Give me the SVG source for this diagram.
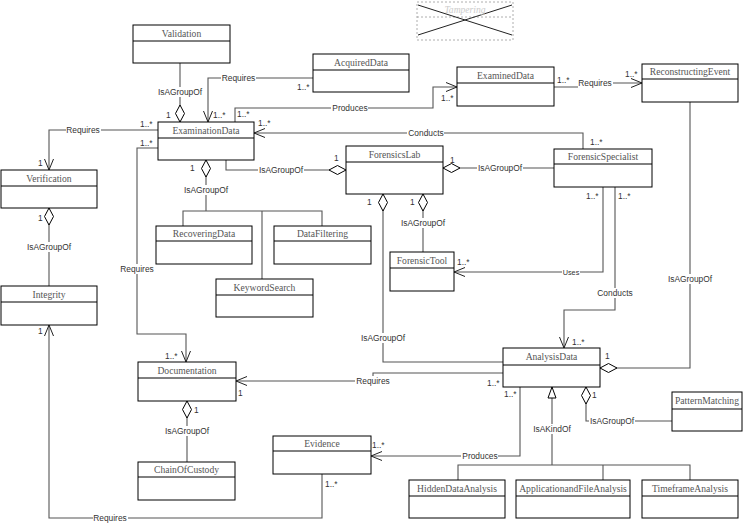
<svg xmlns="http://www.w3.org/2000/svg" width="749" height="527" viewBox="0 0 749 527">
<style>
.box{fill:#fff;stroke:#000;stroke-width:1}
.dv{stroke:#000;stroke-width:1}
.cn{font-family:"Liberation Serif","Times New Roman",serif;font-size:9.6px;font-weight:normal;fill:#555;text-anchor:middle}
.ln{fill:none;stroke:#555;stroke-width:1.1}
.lb{font-family:"Liberation Sans",Arial,sans-serif;font-size:8.4px;fill:#333;text-anchor:middle;dominant-baseline:central}
.bg{fill:#fff}
.m{font-family:"Liberation Sans",Arial,sans-serif;font-size:8.4px;fill:#333}
.oa{marker-end:url(#open)}
.da{marker-end:url(#dia)}
</style>
<defs>
<marker id="open" markerUnits="userSpaceOnUse" markerWidth="14" markerHeight="12" refX="11" refY="4.5" orient="auto" overflow="visible"><path d="M0,0 L11,4.5 L0,9" fill="none" stroke="#222" stroke-width="1"/></marker>
<marker id="dia" markerUnits="userSpaceOnUse" markerWidth="18" markerHeight="11" refX="17" refY="5" orient="auto" overflow="visible"><path d="M0,5 L8.5,0.5 L17,5 L8.5,9.5 Z" fill="#fff" stroke="#000" stroke-width="1"/></marker>
<marker id="tri" markerUnits="userSpaceOnUse" markerWidth="12" markerHeight="10" refX="11" refY="4" orient="auto" overflow="visible"><path d="M0,0 L11,4 L0,8 Z" fill="#fff" stroke="#000" stroke-width="1"/></marker>
</defs>
<rect width="749" height="527" fill="#fff"/>

<g id="connectors">
<polyline class="ln da" points="180,63 180,122"/>
<polyline class="ln oa" points="313,78 208,78 208,122"/>
<polyline class="ln oa" points="235,122 235,108 433,108 433,87 457,87"/>
<polyline class="ln oa" points="554,87 580,87 580,83 642,83"/>
<polyline class="ln oa" points="158,130 49,130 49,170"/>
<polyline class="ln oa" points="158,148 137,148 137,334 186,334 186,362"/>
<polyline class="ln oa" points="583,149 583,133 254,133"/>
<polyline class="ln da" points="226,160 226,170 346,170"/>
<polyline class="ln da" points="554,168 443,168"/>
<polyline class="ln" points="183,226 183,211 322,211 322,226"/>
<polyline class="ln" points="262,211 262,279"/>
<polyline class="ln da" points="206,211 206,160"/>
<polyline class="ln da" points="423,252 423,194"/>
<polyline class="ln da" points="503,362 383,362 383,194"/>
<polyline class="ln oa" points="603,187 603,272 454,272"/>
<polyline class="ln oa" points="615,187 615,310 564,310 564,348"/>
<polyline class="ln da" points="690,102 690,368 600,368"/>
<polyline class="ln oa" points="503,373 373,373 373,381 236,381"/>
<polyline class="ln oa" points="520,387 520,456 371,456"/>
<polyline class="ln oa" points="322,474 322,518 49,518 49,325"/>
<polyline class="ln" points="458,480 458,465 690,465 690,480"/>
<polyline class="ln" points="603,465 603,480"/>
<polyline class="ln" style="marker-end:url(#tri)" points="552,465 552,387"/>
<polyline class="ln da" points="672,421 586,421 586,387"/>
<polyline class="ln da" points="187,462 187,401"/>
<polyline class="ln da" points="49,286 49,208"/>

<rect class="bg" x="157" y="87" width="46" height="10"/><text class="lb" x="180" y="92">IsAGroupOf</text>
<rect class="bg" x="221" y="73" width="35" height="10"/><text class="lb" x="238.5" y="78">Requires</text>
<rect class="bg" x="331" y="103" width="37" height="10"/><text class="lb" x="350" y="108">Produces</text>
<rect class="bg" x="578" y="78" width="35" height="10"/><text class="lb" x="595" y="83">Requires</text>
<rect class="bg" x="66" y="125" width="35" height="10"/><text class="lb" x="83" y="130">Requires</text>
<rect class="bg" x="120" y="264" width="35" height="10"/><text class="lb" x="137" y="269">Requires</text>
<rect class="bg" x="407" y="128" width="37" height="10"/><text class="lb" x="426" y="133">Conducts</text>
<rect class="bg" x="258" y="165" width="46" height="10"/><text class="lb" x="281" y="170">IsAGroupOf</text>
<rect class="bg" x="477" y="163" width="46" height="10"/><text class="lb" x="500" y="168">IsAGroupOf</text>
<rect class="bg" x="183" y="185" width="46" height="10"/><text class="lb" x="206" y="190">IsAGroupOf</text>
<rect class="bg" x="400" y="218" width="46" height="10"/><text class="lb" x="423" y="223">IsAGroupOf</text>
<rect class="bg" x="360" y="333" width="46" height="10"/><text class="lb" x="383" y="338">IsAGroupOf</text>
<rect class="bg" x="562" y="267" width="18" height="10"/><text class="lb" x="571" y="272" style="font-size:7.3px">Uses</text>
<rect class="bg" x="596" y="288" width="37" height="10"/><text class="lb" x="615" y="293">Conducts</text>
<rect class="bg" x="667" y="274" width="46" height="10"/><text class="lb" x="690" y="279">IsAGroupOf</text>
<rect class="bg" x="355" y="376" width="35" height="10"/><text class="lb" x="373" y="381">Requires</text>
<rect class="bg" x="461" y="451" width="37" height="10"/><text class="lb" x="480" y="456">Produces</text>
<rect class="bg" x="93" y="513" width="35" height="10"/><text class="lb" x="110" y="518">Requires</text>
<rect class="bg" x="532" y="424" width="40" height="10"/><text class="lb" x="552" y="429">IsAKindOf</text>
<rect class="bg" x="589" y="416" width="46" height="10"/><text class="lb" x="612" y="421">IsAGroupOf</text>
<rect class="bg" x="164" y="426" width="46" height="10"/><text class="lb" x="187" y="431">IsAGroupOf</text>
<rect class="bg" x="26" y="242" width="46" height="10"/><text class="lb" x="49" y="247">IsAGroupOf</text>

<text class="m" x="166" y="118">1</text>
<text class="m" x="297" y="90">1..*</text>
<text class="m" x="213" y="118">1..*</text>
<text class="m" x="441" y="101">1..*</text>
<text class="m" x="237" y="117">1..*</text>
<text class="m" x="557" y="83">1..*</text>
<text class="m" x="625" y="77">1..*</text>
<text class="m" x="140" y="127">1..*</text>
<text class="m" x="38" y="166">1</text>
<text class="m" x="140" y="146">1..*</text>
<text class="m" x="165" y="359">1..*</text>
<text class="m" x="590" y="145">1..*</text>
<text class="m" x="258" y="126">1..*</text>
<text class="m" x="334" y="161">1</text>
<text class="m" x="450" y="163">1</text>
<text class="m" x="190" y="171">1</text>
<text class="m" x="410" y="205">1</text>
<text class="m" x="367" y="205">1</text>
<text class="m" x="586" y="199">1..*</text>
<text class="m" x="457" y="265">1..*</text>
<text class="m" x="618" y="199">1..*</text>
<text class="m" x="572" y="345">1..*</text>
<text class="m" x="605" y="359">1</text>
<text class="m" x="487" y="386">1..*</text>
<text class="m" x="238" y="396">1</text>
<text class="m" x="504" y="397">1..*</text>
<text class="m" x="372" y="448">1..*</text>
<text class="m" x="325" y="487">1..*</text>
<text class="m" x="38" y="334">1</text>
<text class="m" x="592" y="398">1</text>
<text class="m" x="194" y="413">1</text>
<text class="m" x="38" y="221">1</text>
</g>

<g id="Tampering">
<rect x="417" y="2" width="96" height="38" fill="none" stroke="#999" stroke-width="0.8" stroke-dasharray="2,2"/>
<line x1="417" y1="17" x2="513" y2="17" stroke="#999" stroke-width="0.8" stroke-dasharray="2,2"/>
<line x1="418" y1="5" x2="512" y2="35" stroke="#222" stroke-width="1"/>
<line x1="418" y1="35" x2="512" y2="5" stroke="#222" stroke-width="1"/>
<text class="cn" x="465" y="13" style="fill:#ccc;font-style:italic">Tampering</text>
</g>

<g id="Validation"><rect class="box" x="133" y="25" width="97" height="38"/><line class="dv" x1="133" y1="41" x2="230" y2="41"/><text class="cn" x="181.5" y="37">Validation</text></g>
<g id="AcquiredData"><rect class="box" x="313" y="54" width="96" height="38"/><line class="dv" x1="313" y1="70" x2="409" y2="70"/><text class="cn" x="361" y="66">AcquiredData</text></g>
<g id="ExaminedData"><rect class="box" x="457" y="67" width="97" height="39"/><line class="dv" x1="457" y1="83" x2="554" y2="83"/><text class="cn" x="505.5" y="79">ExaminedData</text></g>
<g id="ReconstructingEvent"><rect class="box" x="642" y="64" width="96" height="38"/><line class="dv" x1="642" y1="79" x2="738" y2="79"/><text class="cn" x="690" y="75">ReconstructingEvent</text></g>
<g id="ExaminationData"><rect class="box" x="158" y="122" width="96" height="38"/><line class="dv" x1="158" y1="138" x2="254" y2="138"/><text class="cn" x="206" y="134">ExaminationData</text></g>
<g id="Verification"><rect class="box" x="1" y="170" width="96" height="38"/><line class="dv" x1="1" y1="186" x2="97" y2="186"/><text class="cn" x="49" y="182">Verification</text></g>
<g id="ForensicsLab"><rect class="box" x="346" y="146" width="97" height="48"/><line class="dv" x1="346" y1="162" x2="443" y2="162"/><text class="cn" x="394.5" y="158">ForensicsLab</text></g>
<g id="ForensicSpecialist"><rect class="box" x="554" y="149" width="98" height="38"/><line class="dv" x1="554" y1="164" x2="652" y2="164"/><text class="cn" x="603" y="160">ForensicSpecialist</text></g>
<g id="RecoveringData"><rect class="box" x="156" y="226" width="96" height="38"/><line class="dv" x1="156" y1="241" x2="252" y2="241"/><text class="cn" x="204" y="237">RecoveringData</text></g>
<g id="DataFiltering"><rect class="box" x="274" y="226" width="97" height="38"/><line class="dv" x1="274" y1="241" x2="371" y2="241"/><text class="cn" x="322.5" y="237">DataFiltering</text></g>
<g id="KeywordSearch"><rect class="box" x="216" y="279" width="97" height="38"/><line class="dv" x1="216" y1="295" x2="313" y2="295"/><text class="cn" x="264.5" y="291">KeywordSearch</text></g>
<g id="ForensicTool"><rect class="box" x="390" y="252" width="64" height="39"/><line class="dv" x1="390" y1="268" x2="454" y2="268"/><text class="cn" x="422" y="264">ForensicTool</text></g>
<g id="Integrity"><rect class="box" x="1" y="286" width="96" height="39"/><line class="dv" x1="1" y1="302" x2="97" y2="302"/><text class="cn" x="49" y="298">Integrity</text></g>
<g id="AnalysisData"><rect class="box" x="503" y="348" width="97" height="39"/><line class="dv" x1="503" y1="365" x2="600" y2="365"/><text class="cn" x="551.5" y="360">AnalysisData</text></g>
<g id="Documentation"><rect class="box" x="138" y="362" width="98" height="39"/><line class="dv" x1="138" y1="378" x2="236" y2="378"/><text class="cn" x="187" y="374">Documentation</text></g>
<g id="PatternMatching"><rect class="box" x="672" y="392" width="70" height="39"/><line class="dv" x1="672" y1="409" x2="742" y2="409"/><text class="cn" x="707" y="404">PatternMatching</text></g>
<g id="Evidence"><rect class="box" x="273" y="436" width="98" height="38"/><line class="dv" x1="273" y1="451" x2="371" y2="451"/><text class="cn" x="322" y="447">Evidence</text></g>
<g id="ChainOfCustody"><rect class="box" x="138" y="462" width="97" height="38"/><line class="dv" x1="138" y1="477" x2="235" y2="477"/><text class="cn" x="186.5" y="473">ChainOfCustody</text></g>
<g id="HiddenDataAnalysis"><rect class="box" x="409" y="480" width="96" height="38"/><line class="dv" x1="409" y1="496" x2="505" y2="496"/><text class="cn" x="457" y="492">HiddenDataAnalysis</text></g>
<g id="ApplicationandFileAnalysis"><rect class="box" x="516" y="480" width="114" height="38"/><line class="dv" x1="516" y1="496" x2="630" y2="496"/><text class="cn" x="573" y="492">ApplicationandFileAnalysis</text></g>
<g id="TimeframeAnalysis"><rect class="box" x="642" y="480" width="96" height="38"/><line class="dv" x1="642" y1="496" x2="738" y2="496"/><text class="cn" x="690" y="492">TimeframeAnalysis</text></g>
</svg>
